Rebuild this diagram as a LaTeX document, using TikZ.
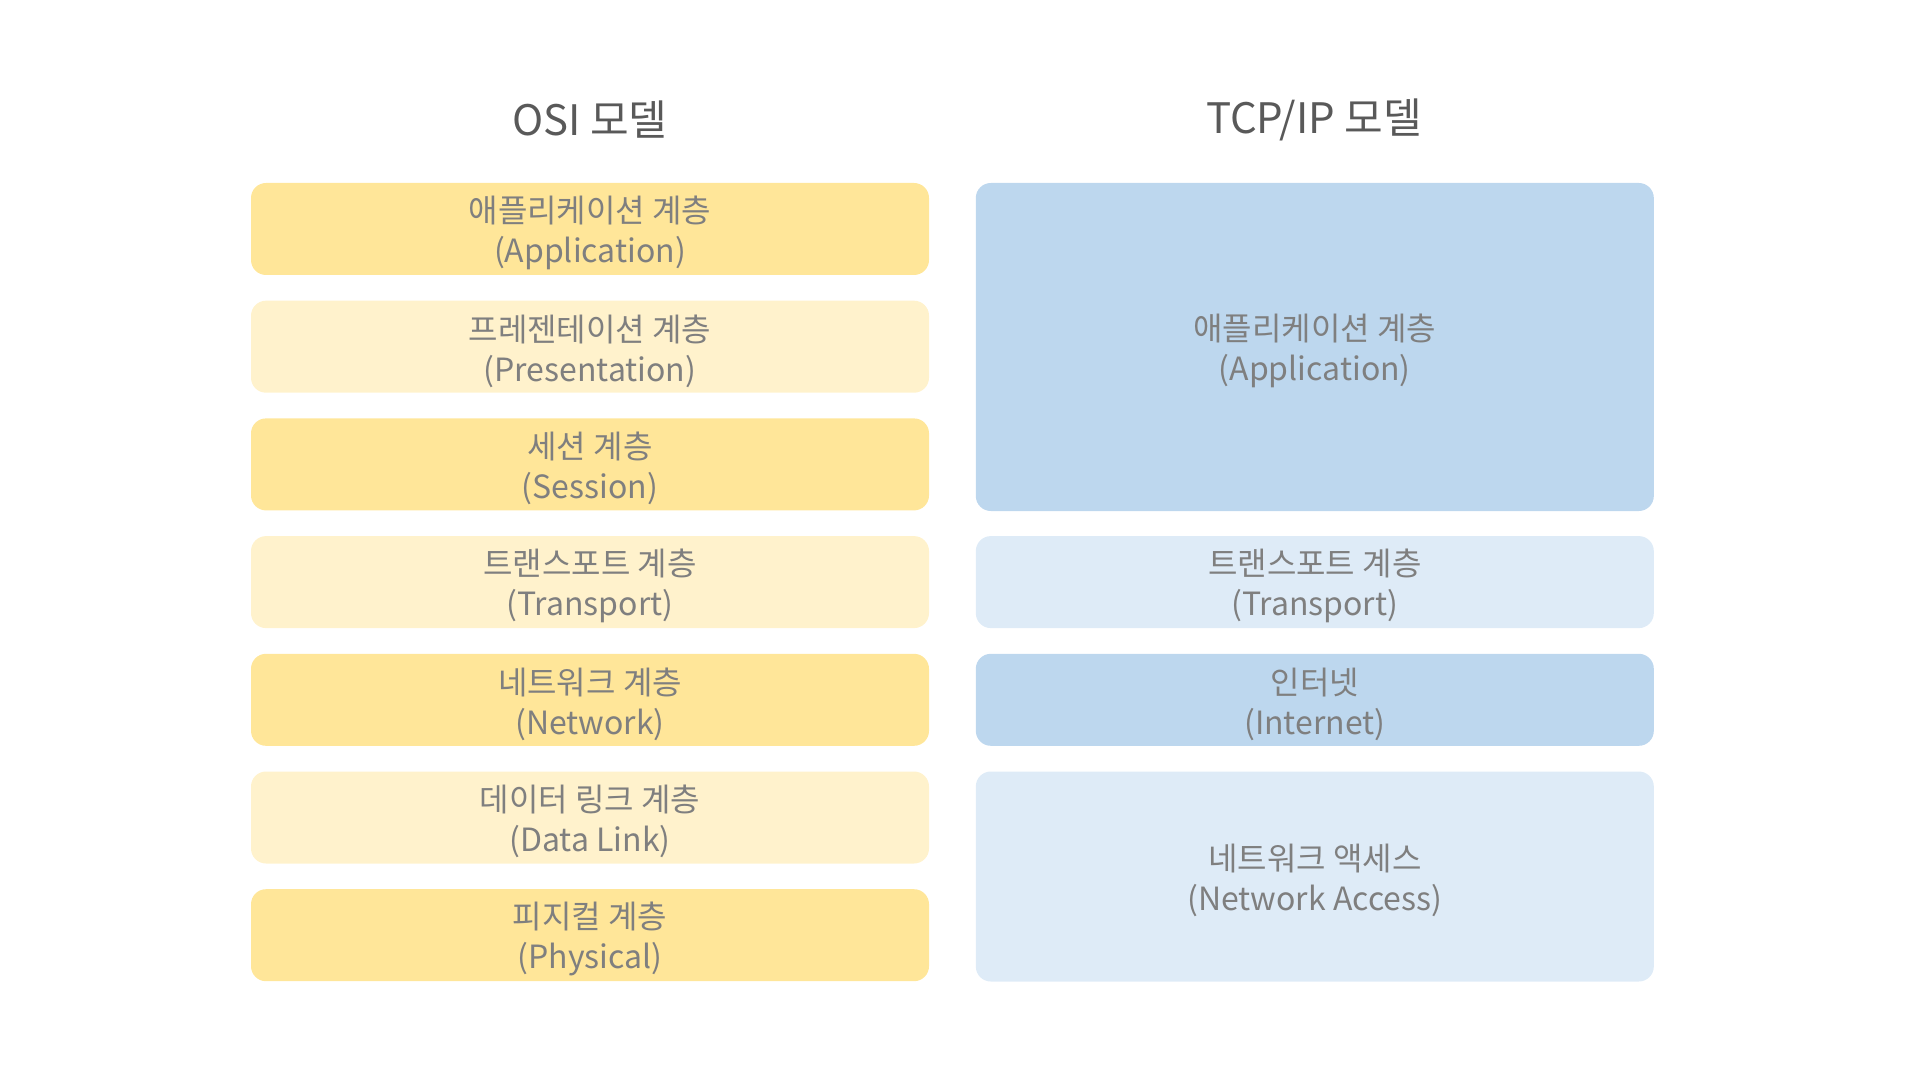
\documentclass[tikz,border=0pt]{standalone}
\usepackage{fontspec}
\setmainfont{Noto Sans CJK KR}
\usetikzlibrary{positioning}
\definecolor{osiDark}{HTML}{FFE699}
\definecolor{osiLight}{HTML}{FFF2CC}
\definecolor{tcpDark}{HTML}{BDD7EE}
\definecolor{tcpLight}{HTML}{DEEBF7}
\definecolor{boxText}{HTML}{7F7F7F}
\definecolor{headText}{HTML}{595959}

\begin{document}
\begin{tikzpicture}[
      x=0.5pt, y=-0.5pt,
      node distance=58.85pt
    ]

    \tikzstyle{layer} = [rectangle, rounded corners=7.5pt, minimum width=339pt, minimum height=46pt, inner sep=0pt, align=center, text height=37.5pt, text=boxText, font=\fontsize{16}{20}\selectfont]
    \tikzstyle{osiA} = [layer, fill=osiDark, on grid]
    \tikzstyle{osiB} = [layer, fill=osiLight, on grid]
    \tikzstyle{tcpA} = [layer, fill=tcpDark]
    \tikzstyle{tcpB} = [layer, fill=tcpLight]
    \tikzstyle{head} = [text=headText, font=\fontsize{21}{26}\selectfont]

    \useasboundingbox (0,0) rectangle (1920,1080);

    % column titles
    \node [head] (osiTitle) at (590,120) {OSI 모델};
    \node [head] (tcpTitle) at (1314,120) {TCP/IP 모델};

    % OSI layers
    \node [osiA] (osiApp) at (590,229) {애플리케이션 계층\\(Application)};
    \node [osiB, below=of osiApp] (osiPres) {프레젠테이션 계층\\(Presentation)};
    \node [osiA, below=of osiPres] (osiSess) {세션 계층\\(Session)};
    \node [osiB, below=of osiSess] (osiTrans) {트랜스포트 계층\\(Transport)};
    \node [osiA, below=of osiTrans] (osiNet) {네트워크 계층\\(Network)};
    \node [osiB, below=of osiNet] (osiLink) {데이터 링크 계층\\(Data Link)};
    \node [osiA, below=of osiLink] (osiPhys) {피지컬 계층\\(Physical)};

    % TCP/IP layers
    \node [tcpA, minimum height=164pt, right=23pt of osiApp.north east, anchor=north west] (tcpApp) {애플리케이션 계층\\(Application)};
    \node [tcpB, right=23pt of osiTrans] (tcpTrans) {트랜스포트 계층\\(Transport)};
    \node [tcpA, right=23pt of osiNet] (tcpNet) {인터넷\\(Internet)};
    \node [tcpB, minimum height=105pt, right=23pt of osiLink.north east, anchor=north west] (tcpAccess) {네트워크 액세스\\(Network Access)};

\end{tikzpicture}
\end{document}
